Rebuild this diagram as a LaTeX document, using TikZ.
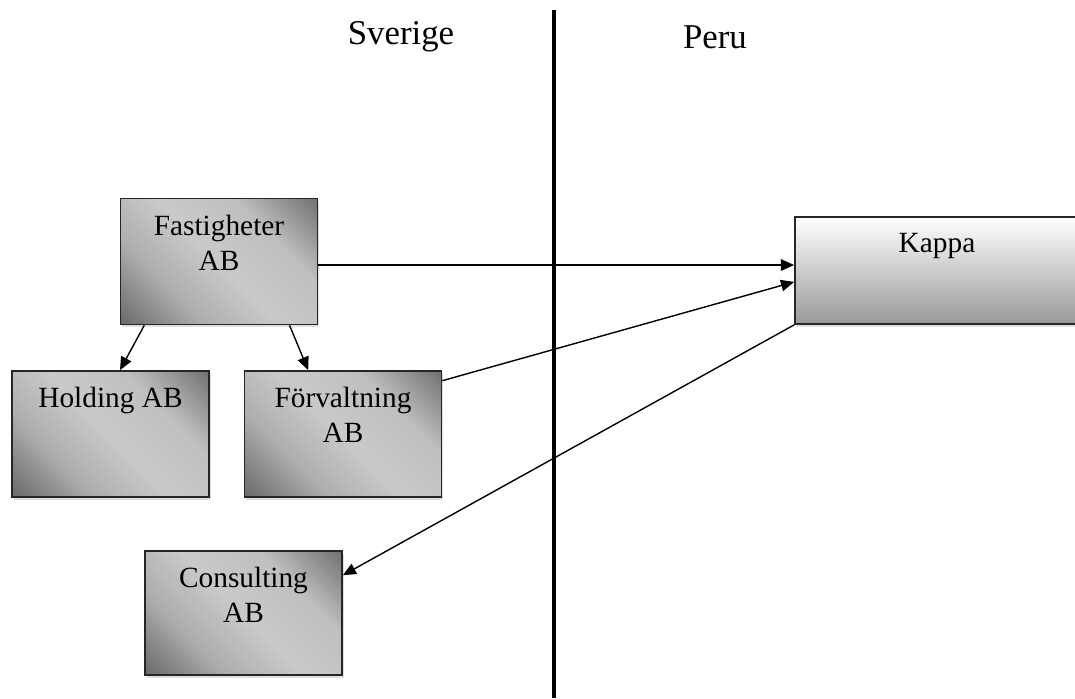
\documentclass[tikz,border=0pt]{standalone}
\usepackage{fontspec}
\setmainfont{Liberation Serif}
\usetikzlibrary{positioning,shadows,arrows.meta}
\pgfdeclareverticalshading{boxshade}{100bp}{color(0bp)=(black!62); color(15bp)=(black!58);
  color(33bp)=(black!32); color(50bp)=(black!21); color(67bp)=(black!25); color(85bp)=(black!55); color(100bp)=(black!60)}
\begin{document}
\begin{tikzpicture}[x=0.02cm,y=-0.02cm,
  box/.style={draw=black!85,line width=1pt,minimum width=3.94cm,minimum height=2.52cm,
    shading=boxshade,shading angle=-45,
    drop shadow={shadow xshift=1pt,shadow yshift=-1.5pt,opacity=0.25}},
  boxtext/.style={inner sep=0pt,align=center,font=\fontsize{16.7}{19.8}\selectfont},
  arr/.style={-{Triangle[length=7.5pt,width=6.5pt]},line width=0.8pt}]
\useasboundingbox (0,0) rectangle (1075,698);
\draw[line width=2.8pt] (554,10) -- (554,698);
\node[font=\fontsize{19.8}{24}\selectfont] (sverige) at (401,37) {Sverige};
\node[font=\fontsize{19.8}{24}\selectfont] (peru) at (715,37) {Peru};
\node[box] (fast) at (219,261.5) {};
\node[box] (hold) at (110.5,434) {};
\node[box] (forv) at (343,434) {};
\node[box,minimum height=2.48cm] (cons) at (243.5,613) {};
\node[box,minimum width=5.68cm,minimum height=2.14cm,top color=white,bottom color=black!40] (kappa) at (937,270.5) {};
\node[boxtext,below=9.6pt of fast.north] (fasttext) {Fastigheter\\AB};
\node[boxtext,below=9.6pt of hold.north] (holdtext) {Holding AB};
\node[boxtext,below=9.6pt of forv.north] (forvtext) {Förvaltning\\AB};
\node[boxtext,below=9.6pt of cons.north] (constext) {Consulting\\AB};
\node[boxtext,below=9.6pt of kappa.north] (kappatext) {Kappa};
\draw[arr] ([yshift=-2pt]fast.east) -- ([yshift=-2pt]fast.east -| kappa.west);
\draw[arr] ([yshift=-6pt]forv.north east) -- ([yshift=-6.5pt]kappa.west);
\draw[arr] (kappa.south west) -- ([yshift=21.5pt]cons.east);
\draw[arr] ([xshift=14pt]fast.south west) -- ([xshift=5.4pt]hold.north);
\draw[arr] ([xshift=-16.4pt]fast.south east) -- ([xshift=-19.8pt]forv.north);
\end{tikzpicture}
\end{document}
